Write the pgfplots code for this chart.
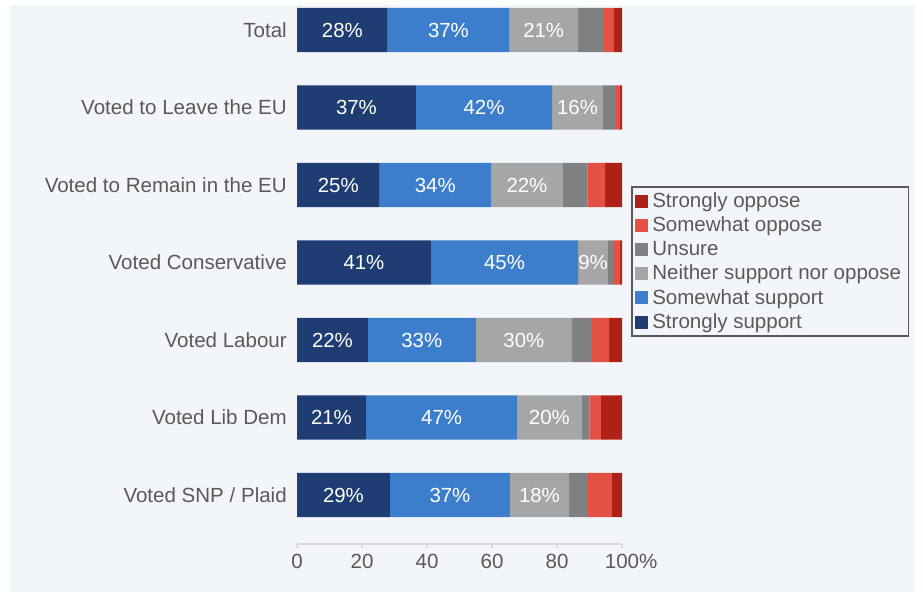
\documentclass[border=0pt]{standalone}
\usepackage{pgfplots}
\pgfplotsset{compat=1.18}
\usepackage{pgfplotstable}
\usepackage{fontspec}
\setmainfont{Liberation Sans}
\definecolor{bgc}{HTML}{F2F6FA}
\definecolor{txt}{HTML}{595959}
\definecolor{axc}{HTML}{D9D9D9}
\definecolor{cSS}{HTML}{1F3D73}
\definecolor{cWS}{HTML}{3D7ECC}
\definecolor{cN}{HTML}{A6A6A6}
\definecolor{cU}{HTML}{808080}
\definecolor{cWO}{HTML}{E35144}
\definecolor{cSO}{HTML}{AD2117}
\newcommand\lf{\fontsize{15.4pt}{18pt}\selectfont}
\newcommand\barf{\fontsize{15.3pt}{17pt}\selectfont}
\pgfplotstableread{
y SS WS N U WO SO
0 28.6 36.9 18.2 5.8 7.4 3.1
1 21.2 46.6 19.7 2.5 3.5 6.5
2 21.8 33.2 29.6 5.9 5.5 4.0
3 41.2 45.3 9.2 1.8 1.9 0.6
4 25.4 34.3 22.1 7.6 5.4 5.2
5 36.6 41.9 15.6 3.8 1.5 0.6
6 27.9 37.4 21.2 7.9 3.1 2.5
}\data
\pgfplotsset{
  lbl/.style={
    nodes near coords={\pgfmathprintnumber[fixed,precision=0]{\pgfplotspointmeta}\%},
    point meta=\thisrow{#1},
    every node near coord/.style={anchor=center, text=white, font=\barf},
  }
}
\begin{document}
\begin{tikzpicture}
\path[use as bounding box] (0,0) rectangle (692.25pt,-444pt);
\fill[bgc] (7.5pt,-3.75pt) rectangle (686.25pt,-444pt);
\begin{axis}[
  at={(222.75pt,-371.25pt)}, anchor=origin,
  x=2.4375pt, y=58.125pt,
  xmin=0, xmax=100, ymin=-0.632, ymax=6.4,
  xbar stacked, bar width=0.57,
  clip=false,
  axis x line*=bottom, axis y line*=left,
  x axis line style={draw=axc, line width=1.1pt, -},
  y axis line style={draw=none},
  xtick={0,20,40,60,80,100},
  xticklabels={0,20,40,60,80,100\rlap{\%}},
  ytick={0,1,2,3,4,5,6},
  yticklabels={Voted SNP / Plaid, Voted Lib Dem, Voted Labour, Voted Conservative, Voted to Remain in the EU, Voted to Leave the EU, Total},
  tick align=outside, major tick length=3pt,
  xtick style={draw=axc, line width=0.8pt},
  ytick style={draw=none},
  ticklabel style={font=\lf, text=txt},
  /pgf/number format/assume math mode=true,
  yticklabel style={inner xsep=0pt, xshift=-4.5pt},
  xticklabel style={yshift=-1pt},
  legend style={at={(1.0277,0.657)}, anchor=north west, draw=txt, line width=1.4pt,
    fill=bgc, font=\lf, text=txt, inner xsep=2pt, inner ysep=1.5pt,
    nodes={inner ysep=2.8pt, inner xsep=3.5pt},
    cells={anchor=west}},
  legend image code/.code={\fill[#1, draw=none] (0pt,-4.875pt) rectangle (9.75pt,4.875pt);},
]
\addplot[fill=cSS, draw=none, forget plot, lbl=SS] table[x=SS,y=y]{\data};
\addplot[fill=cWS, draw=none, forget plot, lbl=WS] table[x=WS,y=y]{\data};
\addplot[fill=cN, draw=none, forget plot, lbl=N] table[x=N,y=y]{\data};
\addplot[fill=cU, draw=none, forget plot] table[x=U,y=y]{\data};
\addplot[fill=cWO, draw=none, forget plot] table[x=WO,y=y]{\data};
\addplot[fill=cSO, draw=none, forget plot] table[x=SO,y=y]{\data};
\addlegendimage{fill=cSO, draw=none}\addlegendentry{Strongly oppose}
\addlegendimage{fill=cWO, draw=none}\addlegendentry{Somewhat oppose}
\addlegendimage{fill=cU, draw=none}\addlegendentry{Unsure}
\addlegendimage{fill=cN, draw=none}\addlegendentry{Neither support nor oppose}
\addlegendimage{fill=cWS, draw=none}\addlegendentry{Somewhat support}
\addlegendimage{fill=cSS, draw=none}\addlegendentry{Strongly support}
\end{axis}
\end{tikzpicture}
\end{document}
